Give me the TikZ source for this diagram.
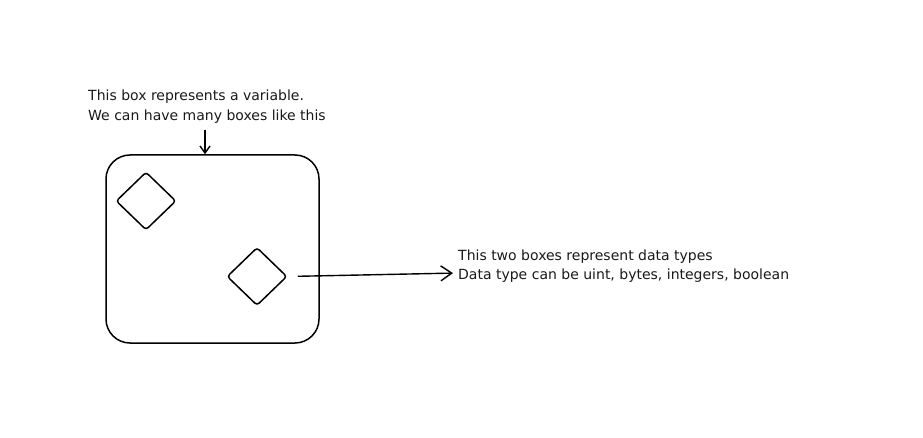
\documentclass[tikz,border=0pt]{standalone}
\usepackage{fontspec}
\setmainfont{DejaVu Sans}
\usetikzlibrary{shapes.geometric,arrows.meta,positioning}
\tikzset{
  varbox/.style={draw,rounded corners=24pt,line width=1.5pt,minimum width=213pt,minimum height=188pt,inner sep=0pt},
  typebox/.style={diamond,draw,rounded corners=3pt,line width=1.5pt,minimum width=60pt,minimum height=58pt,inner sep=0pt},
  note/.style={align=left,font=\fontsize{14}{19.5}\selectfont,inner sep=0pt,text=black!90},
  pointer/.style={line width=1.4pt,-{Straight Barb[length=7pt,width=10pt,line width=1.4pt]}},
  bigpointer/.style={line width=1.4pt,-{Straight Barb[length=11pt,width=15pt,line width=1.4pt]}}
}
\begin{document}
\begin{tikzpicture}[x=1pt,y=-1pt]
  \useasboundingbox (0,0) rectangle (923,438);
  % the variable and its two data types
  \node[varbox] (var) at (212.5,249) {};
  \node[typebox] (t1) at (146,201) {};
  \node[typebox] (t2) at (257,276.5) {};

  % notes
  \node[note,anchor=north west] (n1) at (88,90) {This box represents a variable.\\We can have many boxes like this};
  \node[note,anchor=west] (n2) at (458,266) {This two boxes represent data types\\Data type can be uint, bytes, integers, boolean};

  \coordinate (n1tip) at (205,130);
  \draw[pointer] (n1tip) -- ([xshift=-7.5pt]var.north);
  \draw[bigpointer,shorten <=10pt,shorten >=5pt] (t2.east) -- ([yshift=-7pt]n2.west);
\end{tikzpicture}
\end{document}
